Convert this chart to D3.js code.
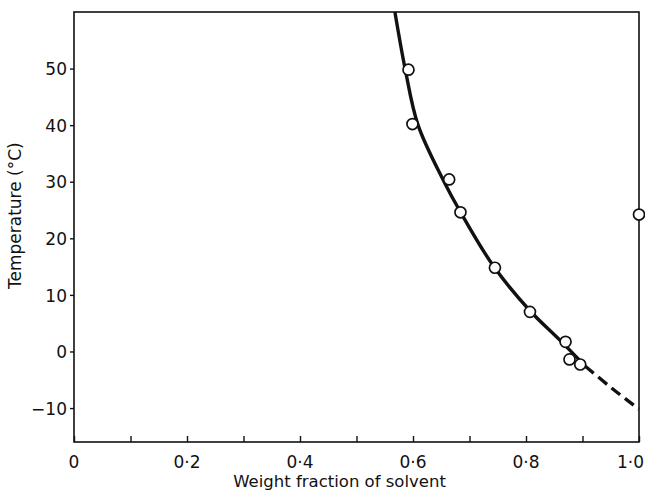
<!DOCTYPE html>
<html>
<head>
<meta charset="utf-8">
<script src="https://cdn.jsdelivr.net/npm/d3@7"></script>
<style>
  body { margin: 0; background: #fff; }
  text { font-family: "DejaVu Sans", sans-serif; fill: #111; }
</style>
</head>
<body>
<div id="chart"></div>
<script>
var outerWidth = 645;
var outerHeight = 494;
var margin = { top: 12, right: 6, bottom: 52, left: 74 };

// measured points (weight fraction, temperature)
var pointX = [0.592, 0.599, 0.664, 0.684, 0.745, 0.807, 0.870, 0.877, 0.896, 1.0];
var pointT = [49.8, 40.2, 30.4, 24.6, 14.8, 7.0, 1.7, -1.4, -2.3, 24.2];

// drawn curve, solid part then dashed extrapolation
var curveSolidX = [0.568, 0.586, 0.609, 0.655, 0.682, 0.743, 0.807, 0.860, 0.905];
var curveSolidT = [60, 50, 40, 30, 25, 15, 7.2, 2.0, -2.6];
var curveDashX = [0.905, 0.952, 1.0];
var curveDashT = [-2.6, -6.5, -10.2];

var xTicks = [0, 0.1, 0.2, 0.3, 0.4, 0.5, 0.6, 0.7, 0.8, 0.9, 1.0];
var xLabelVals = [0, 0.2, 0.4, 0.6, 0.8, 1.0];
var xLabels = ["0", "0·2", "0·4", "0·6", "0·8", "1·0"];
var yTicks = [-10, 0, 10, 20, 30, 40, 50];

var width = outerWidth - margin.left - margin.right;
var height = outerHeight - margin.top - margin.bottom;

var svg = d3.select("#chart").append("svg")
    .attr("width", outerWidth)
    .attr("height", outerHeight);

var g = svg.append("g")
    .attr("transform", "translate(" + margin.left + "," + margin.top + ")");

var x = d3.scaleLinear().domain([0, 1]).range([0, width]);
var y = d3.scaleLinear().domain([-16, 60]).range([height, 0]);

// frame
g.append("rect")
    .attr("x", 0).attr("y", 0)
    .attr("width", width).attr("height", height)
    .attr("fill", "none")
    .attr("stroke", "#111")
    .attr("stroke-width", 1.6);

// x axis: inward ticks, labels every 0.2
var xAxis = d3.axisBottom(x).tickValues(xTicks).tickSizeInner(-6).tickSizeOuter(0).tickFormat("");
var gx = g.append("g").attr("transform", "translate(0," + height + ")").call(xAxis);
gx.select(".domain").remove();
gx.selectAll("line").attr("stroke", "#111").attr("stroke-width", 1.4);

g.selectAll(".xlab").data(xLabelVals).enter().append("text")
    .attr("class", "xlab")
    .attr("x", function(d) { return d === 1 ? x(d) + 5 : x(d); })
    .attr("y", height + 26)
    .attr("text-anchor", function(d) { return d === 1 ? "end" : "middle"; })
    .style("font-size", "17px")
    .text(function(d, i) { return xLabels[i]; });

// y axis: short outward ticks
var yAxis = d3.axisLeft(y).tickValues(yTicks).tickSizeInner(4).tickSizeOuter(0).tickPadding(3);
var gy = g.append("g").call(yAxis);
gy.select(".domain").remove();
gy.selectAll("line").attr("stroke", "#111").attr("stroke-width", 1.4);
gy.selectAll("text").style("font-size", "17px").attr("dy", "0.36em")
    .text(function(d) { return d < 0 ? "−" + Math.abs(d) : d; });

// axis titles
svg.append("text")
    .attr("x", margin.left + x(0.47))
    .attr("y", 487)
    .attr("text-anchor", "middle")
    .style("font-size", "16.5px")
    .text("Weight fraction of solvent");

svg.append("text")
    .attr("transform", "translate(21," + (margin.top + y(24)) + ") rotate(-90)")
    .attr("text-anchor", "middle")
    .style("font-size", "17px")
    .text("Temperature (°C)");

// curve
var line = d3.line()
    .x(function(d) { return x(d[0]); })
    .y(function(d) { return y(d[1]); })
    .curve(d3.curveCatmullRom.alpha(0.5));

var solid = curveSolidX.map(function(v, i) { return [v, curveSolidT[i]]; });
var dashed = curveDashX.map(function(v, i) { return [v, curveDashT[i]]; });

g.append("path").datum(solid)
    .attr("d", line)
    .attr("fill", "none")
    .attr("stroke", "#111")
    .attr("stroke-width", 3.4);

g.append("path").datum(dashed)
    .attr("d", line)
    .attr("fill", "none")
    .attr("stroke", "#111")
    .attr("stroke-width", 3.4)
    .attr("stroke-dasharray", "11,6");

// points
var pts = pointX.map(function(v, i) { return { x: v, t: pointT[i] }; });
g.selectAll("circle").data(pts).enter().append("circle")
    .attr("cx", function(d) { return x(d.x); })
    .attr("cy", function(d) { return y(d.t); })
    .attr("r", 5.5)
    .attr("fill", "#fff")
    .attr("stroke", "#111")
    .attr("stroke-width", 1.7);
</script>
</body>
</html>
